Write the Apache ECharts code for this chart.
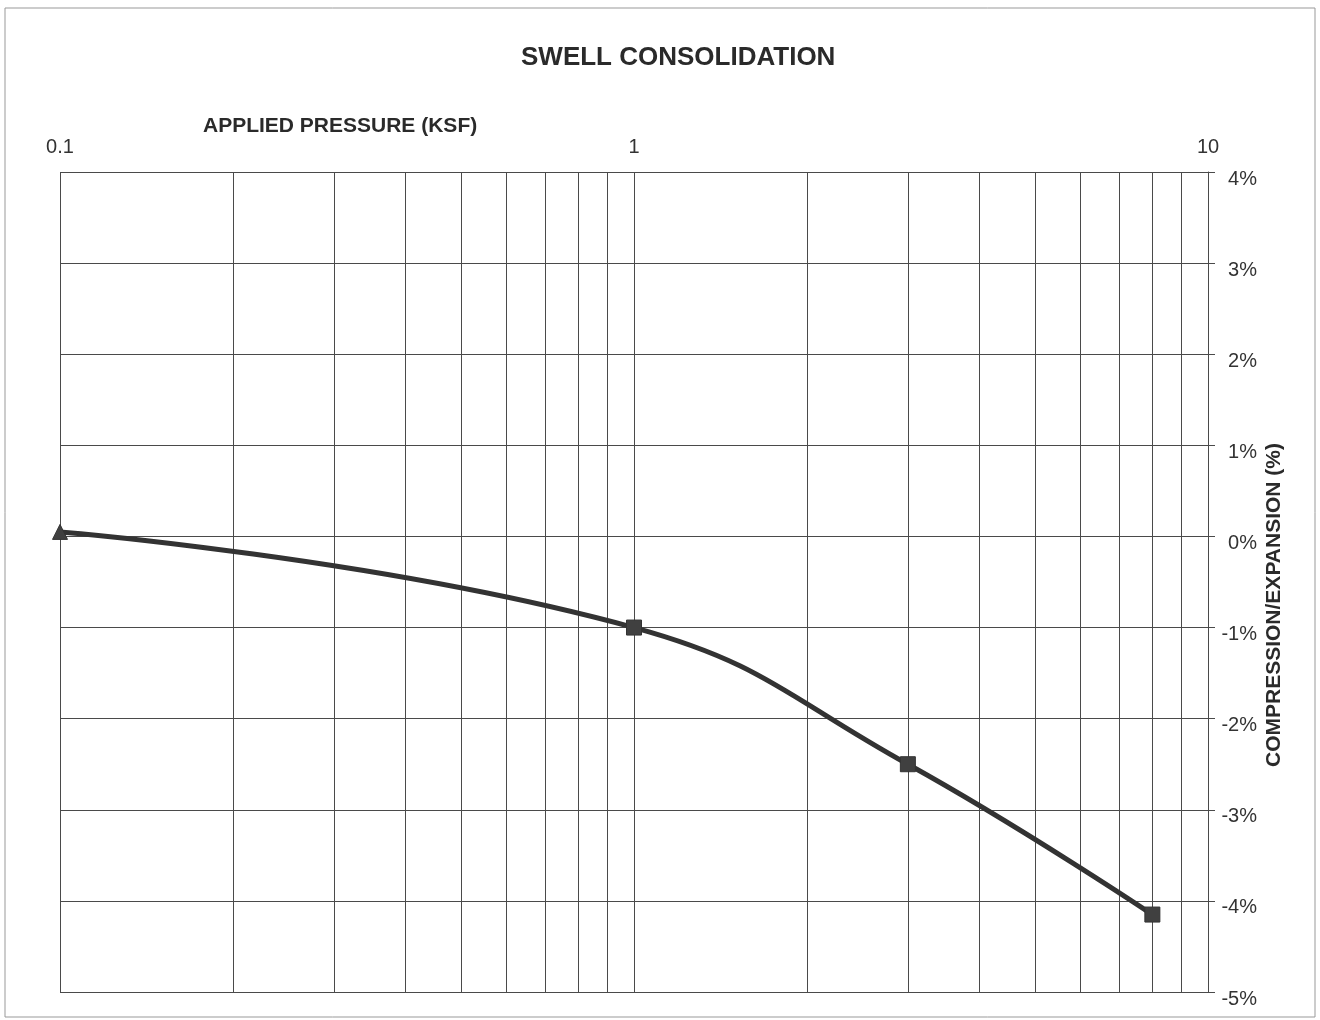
<!DOCTYPE html>
<html>
<head>
<meta charset="utf-8">
<script src="https://cdn.jsdelivr.net/npm/echarts@6/dist/echarts.min.js"></script>
<style>html,body{margin:0;padding:0;background:#fff}#c{width:1320px;height:1020px}</style>
</head>
<body>
<div id="c"></div>
<script>
const pressure = [0.1, 1, 3, 8];
const strain = [0.05, -1.0, -2.5, -4.15];
const markerShapes = ['triangle', 'rect', 'rect', 'rect'];
const minorPressures = [0.2,0.3,0.4,0.5,0.6,0.7,0.8,0.9,2,3,4,5,6,7,8,9];
const yTicks = [-5,-4,-3,-2,-1,0,1,2,3,4];

const chart = echarts.init(document.getElementById('c'));
const FONT = 'Liberation Sans, Arial, sans-serif';
const GRIDC = '#4a4a4a';
chart.setOption({
  animation: false,
  backgroundColor: '#fff',
  title: {
    text: 'SWELL CONSOLIDATION', left: 516, top: 40,
    textStyle: {fontFamily: FONT, fontSize: 26, fontWeight: 'bold', color: '#2a2a2a'}
  },
  graphic: [
    {type: 'rect', shape: {x: 5, y: 8, width: 1310, height: 1009}, style: {fill: 'none', stroke: '#999', lineWidth: 1}, silent: true},
    {type: 'text', left: 203, top: 116, style: {text: 'APPLIED PRESSURE (KSF)', fontFamily: FONT, fontSize: 21, fontWeight: 'bold', fill: '#2a2a2a'}},
    {type: 'text', x: 1274, y: 605, rotation: Math.PI / 2,
      style: {text: 'COMPRESSION/EXPANSION (%)', fontFamily: FONT, fontSize: 21, fontWeight: 'bold', fill: '#2a2a2a', align: 'center', verticalAlign: 'middle'}}
  ],
  grid: {left: 60, right: 112, top: 172, bottom: 28, containLabel: false},
  xAxis: {
    type: 'log', logBase: 10, min: 0.1, max: 10, position: 'top',
    axisLine: {show: true, lineStyle: {color: GRIDC, width: 1}},
    axisTick: {show: true, inside: false, length: 6, lineStyle: {color: GRIDC}},
    axisLabel: {fontFamily: FONT, fontSize: 20, color: '#333', margin: 15,
      formatter: v => String(v)},
    splitLine: {show: true, lineStyle: {color: GRIDC, width: 1}}
  },
  yAxis: {
    type: 'value', min: -5, max: 4, interval: 1, position: 'right',
    axisLine: {show: true, lineStyle: {color: GRIDC, width: 1}},
    axisTick: {show: true, inside: false, length: 7, lineStyle: {color: GRIDC}},
    axisLabel: {fontFamily: FONT, fontSize: 20, color: '#333', margin: 49, align: 'right',
      formatter: v => yTicks.includes(v) ? '{a|' + v + '%}' : '',
      rich: {a: {fontFamily: FONT, fontSize: 20, color: '#333', padding: [14, 0, 0, 0]}}},
    splitLine: {show: true, lineStyle: {color: GRIDC, width: 1}}
  },
  series: [{
    type: 'line',
    smooth: 0.45,
    data: pressure.map((p, i) => ({value: [p, strain[i]], symbol: markerShapes[i]})),
    symbolSize: 15,
    itemStyle: {color: '#404040', borderColor: '#333', borderWidth: 1},
    lineStyle: {color: '#333', width: 5},
    z: 5,
    markLine: {
      silent: true, symbol: 'none', animation: false,
      label: {show: false},
      lineStyle: {color: GRIDC, width: 1, type: 'solid'},
      emphasis: {disabled: true},
      data: minorPressures.map(v => ({xAxis: v}))
    }
  }]
});
</script>
</body>
</html>
